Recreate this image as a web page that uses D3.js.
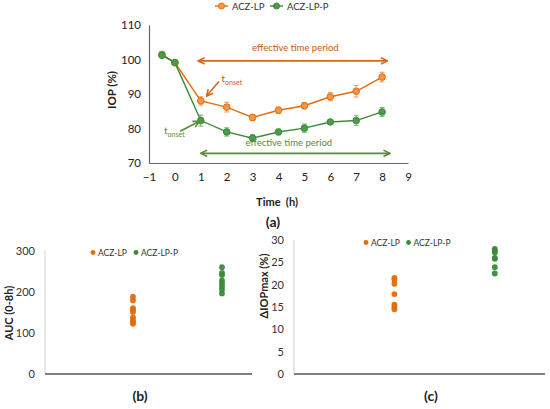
<!DOCTYPE html>
<html><head><meta charset="utf-8">
<script src="https://cdn.jsdelivr.net/npm/d3@7"></script>
<style>body{margin:0;background:#fff}svg{display:block;font-family:Lato,"Open Sans",sans-serif}</style>
</head><body><svg id="c" width="550" height="409"></svg>
<script>
// ---- data ----
const times = [-0.5, 0, 1, 2, 3, 4, 5, 6, 7, 8];
const lpIOP   = [101.5, 99.1, 88.0, 86.2, 83.2, 85.3, 86.6, 89.2, 90.8, 94.9];
const lpErr   = [0.4, 0.3, 1.2, 1.4, 0.9, 0.9, 0.9, 1.2, 1.7, 1.4];
const lppIOP  = [101.2, 99.1, 82.3, 79.0, 77.2, 79.0, 80.1, 81.9, 82.3, 84.8];
const lppErr  = [0.3, 0.3, 1.6, 1.2, 1.0, 0.8, 1.2, 0.5, 1.4, 1.3];
const xTicksA = [-1, 0, 1, 2, 3, 4, 5, 6, 7, 8, 9];
const yTicksA = [70, 80, 90, 100, 110];
const seriesNames = ["ACZ-LP", "ACZ-LP-P"];
const aucLP  = [188, 179, 160, 156, 151, 138, 131, 126, 122];
const aucLPP = [260, 246, 241, 228, 221, 213, 205, 196];
const yTicksB = [0, 100, 200, 300];
const dLP  = [21.5, 21.1, 20.2, 17.9, 15.5, 15.0, 14.5];
const dLPP = [28.0, 27.6, 27.2, 26.0, 25.8, 23.9, 22.5];
const yTicksC = [0, 5, 10, 15, 20, 25, 30];

const OR = "#E46C0A", ORF = "#F79646", ORT = "#C55A11";
const GR = "#3B8A3B", GRF = "#4E9A45", GRT = "#5A8A3C";
const svg = d3.select("#c");

// markers
const defs = svg.append("defs");
function arrowHead(id, col){
  defs.append("marker").attr("id", id).attr("viewBox","0 0 10 10").attr("refX",9).attr("refY",5)
    .attr("markerWidth",5).attr("markerHeight",5).attr("orient","auto-start-reverse")
    .append("path").attr("d","M1,1 L9,5 L1,9").attr("fill","none").attr("stroke",col).attr("stroke-width",2);
}
arrowHead("ao", "#D2691E"); arrowHead("ag", "#5B8A3A");

// ---- panel (a) ----
const xA = d3.scaleLinear().domain([-1, 9]).range([149, 408]);
const yA = d3.scaleLinear().domain([70, 110]).range([163, 25]);
const gA = svg.append("g");
gA.append("g").attr("transform","translate(0,163)")
  .call(d3.axisBottom(xA).tickValues(xTicksA).tickSize(0).tickPadding(10).tickFormat(d3.format("d")))
  .call(g=>{g.select(".domain").attr("stroke","#666").attr("stroke-width",1.2);
            g.selectAll("text").attr("font-size",11.5).attr("fill","#222").attr("font-family","Lato,sans-serif");});
gA.append("g").attr("transform","translate(149,0)")
  .call(d3.axisLeft(yA).tickValues(yTicksA).tickSize(0).tickPadding(8))
  .call(g=>{g.select(".domain").attr("stroke","#666").attr("stroke-width",1.2);
            g.selectAll("text").attr("font-size",11.5).attr("fill","#222").attr("font-family","Lato,sans-serif");});
gA.append("text").attr("transform","translate(116,90) rotate(-90)").attr("text-anchor","middle")
  .attr("font-size",11.5).attr("font-weight","bold").attr("fill","#222").text("IOP (%)");
gA.append("text").attr("x",277).attr("y",206).attr("text-anchor","middle")
  .attr("font-size",11).attr("font-weight","bold").attr("fill","#222").attr("xml:space","preserve").text("Time  (h)");
gA.append("text").attr("x",273).attr("y",227).attr("text-anchor","middle")
  .attr("font-size",14).attr("font-weight","bold").attr("fill","#222").text("(a)");

function drawSeries(vals, errs, line, fill){
  const pts = times.map((t,i)=>({t, v:vals[i], e:errs[i]}));
  gA.append("path").datum(pts).attr("fill","none").attr("stroke",line).attr("stroke-width",1.4)
    .attr("d", d3.line().x(d=>xA(d.t)).y(d=>yA(d.v)));
  const eb = gA.append("g").attr("stroke", line).attr("stroke-width",0.9).attr("opacity",0.75);
  pts.forEach(d=>{
    eb.append("line").attr("x1",xA(d.t)).attr("x2",xA(d.t)).attr("y1",yA(d.v-d.e)).attr("y2",yA(d.v+d.e));
    [d.v-d.e, d.v+d.e].forEach(v=>eb.append("line").attr("x1",xA(d.t)-2.5).attr("x2",xA(d.t)+2.5).attr("y1",yA(v)).attr("y2",yA(v)));
  });
  gA.append("g").selectAll("circle").data(pts).join("circle")
    .attr("cx",d=>xA(d.t)).attr("cy",d=>yA(d.v)).attr("r",3.3)
    .attr("fill",fill).attr("stroke",line).attr("stroke-width",1);
}
drawSeries(lpIOP, lpErr, OR, ORF);
drawSeries(lppIOP, lppErr, GR, GRF);

// legend (a)
[[215, OR, ORF, seriesNames[0]], [270, GR, GRF, seriesNames[1]]].forEach(([x,c,f,t])=>{
  gA.append("line").attr("x1",x).attr("x2",x+13).attr("y1",6).attr("y2",6).attr("stroke",c).attr("stroke-width",1.4);
  gA.append("circle").attr("cx",x+6.5).attr("cy",6).attr("r",3).attr("fill",f).attr("stroke",c);
  gA.append("text").attr("x",x+17).attr("y",9.5).attr("font-size",9.5).attr("fill","#333").text(t);
});

// annotations (a)
gA.append("line").attr("x1",xA(0.9)).attr("x2",xA(8.2)).attr("y1",yA(99.6)).attr("y2",yA(99.6))
  .attr("stroke","#D2691E").attr("stroke-width",1.6).attr("marker-start","url(#ao)").attr("marker-end","url(#ao)");
gA.append("text").attr("x",xA(4.65)).attr("y",yA(102.5)).attr("text-anchor","middle").attr("font-size",9.5)
  .attr("fill",ORT).text("effective time period");
gA.append("line").attr("x1",xA(1.0)).attr("x2",xA(8.3)).attr("y1",yA(72.8)).attr("y2",yA(72.8))
  .attr("stroke","#5B8A3A").attr("stroke-width",1.6).attr("marker-start","url(#ag)").attr("marker-end","url(#ag)");
gA.append("text").attr("x",xA(4.4)).attr("y",yA(74.8)).attr("text-anchor","middle").attr("font-size",9.5)
  .attr("fill",GRT).text("effective time period");
// t_onset orange
gA.append("line").attr("x1",xA(1.7)).attr("y1",yA(93.6)).attr("x2",xA(1.22)).attr("y2",yA(89.4))
  .attr("stroke","#D2691E").attr("stroke-width",1.6).attr("marker-end","url(#ao)");
const t1 = gA.append("text").attr("x",xA(1.8)).attr("y",yA(93.5)).attr("font-size",10).attr("fill",ORT);
t1.append("tspan").text("t");
t1.append("tspan").attr("font-size",7).attr("dy",3).text("onset");
// t_onset green
gA.append("line").attr("x1",xA(0.2)).attr("y1",yA(79.2)).attr("x2",xA(0.95)).attr("y2",yA(82.1))
  .attr("stroke","#5B8A3A").attr("stroke-width",1.6).attr("marker-end","url(#ag)");
const t2 = gA.append("text").attr("x",xA(-0.42)).attr("y",yA(78.5)).attr("font-size",10).attr("fill",GRT);
t2.append("tspan").text("t");
t2.append("tspan").attr("font-size",7).attr("dy",3).text("onset");

// ---- scatter panels ----
function scatterPanel(opt){
  const g = svg.append("g");
  const x = d3.scaleLinear().domain([0, 1]).range([opt.x0, opt.x1]);
  const y = d3.scaleLinear().domain(opt.yDom).range([374, 240 + opt.topOff]);
  g.append("line").attr("x1",opt.x0).attr("x2",opt.x0).attr("y1",y(opt.yDom[1])).attr("y2",374)
    .attr("stroke","#d0d0d0").attr("stroke-width",1);
  g.append("g").attr("transform",`translate(${opt.x0},0)`)
    .call(d3.axisLeft(y).tickValues(opt.ticks).tickSize(0).tickPadding(10))
    .call(a=>{a.select(".domain").remove();
      a.selectAll("text").attr("font-size",11).attr("fill","#333").attr("font-family","Lato,sans-serif");});
  g.append("line").attr("x1",opt.x0).attr("x2",opt.x1).attr("y1",374).attr("y2",374)
    .attr("stroke","#7f7f7f").attr("stroke-width",2);
  [[opt.c1, opt.v1, OR], [opt.c2, opt.v2, GR]].forEach(([c, vals, col])=>{
    g.append("g").selectAll("circle").data(vals).join("circle")
      .attr("cx", x(c)).attr("cy", d=>y(d)).attr("r",2.9).attr("fill",col).attr("opacity",0.95);
  });
  g.append("text").attr("transform",`translate(${opt.labX},${opt.labY}) rotate(-90)`).attr("text-anchor","middle")
    .attr("font-size",11).attr("font-weight","bold").attr("fill","#222").text(opt.label);
  g.append("text").attr("x",opt.tagX).attr("y",401).attr("text-anchor","middle")
    .attr("font-size",14).attr("font-weight","bold").attr("fill","#222").text(opt.tag);
  [[opt.legX, OR, seriesNames[0]], [opt.legX + opt.legGap, GR, seriesNames[1]]].forEach(([lx,col,t])=>{
    g.append("circle").attr("cx",lx).attr("cy",opt.legY).attr("r",2.4).attr("fill",col);
    g.append("text").attr("x",lx+5).attr("y",opt.legY+3).attr("font-size",8.5).attr("fill","#333").text(t);
  });
}
scatterPanel({x0:45, x1:252, yDom:[0,300], topOff:10.7, ticks:yTicksB, c1:0.425, c2:0.855,
  v1:aucLP, v2:aucLPP, label:"AUC (0-8h)", labX:13, labY:313, tag:"(b)", tagX:140, legX:93, legGap:43, legY:252.5});
scatterPanel({x0:294, x1:545, yDom:[0,30], topOff:0, ticks:yTicksC, c1:0.4, c2:0.8,
  v1:dLP, v2:dLPP, label:"ΔIOPmax (%)", labX:268, labY:286, tag:"(c)", tagX:431, legX:366, legGap:42.5, legY:242.5});
</script></body></html>
